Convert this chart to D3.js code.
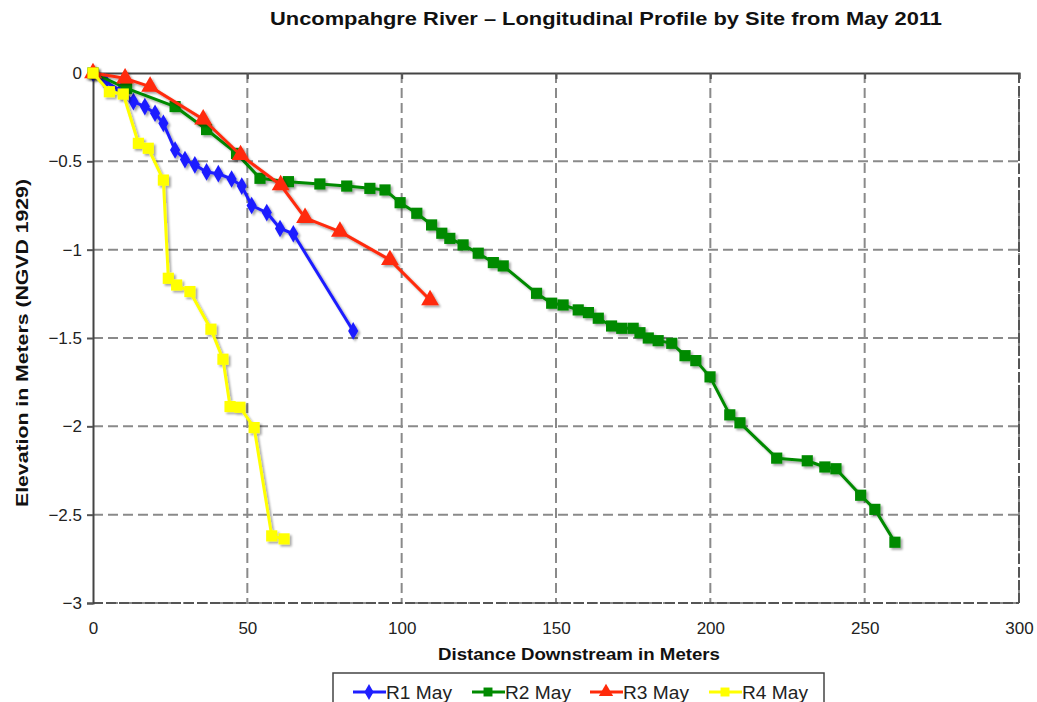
<!DOCTYPE html>
<html>
<head>
<meta charset="utf-8">
<script src="https://cdn.jsdelivr.net/npm/d3@7"></script>
<style>
  body { margin: 0; background: #fff; }
  text { font-family: "Liberation Sans", Arial, sans-serif; }
</style>
</head>
<body>
<svg id="chart" width="1037" height="702"></svg>
<script>
var width = 1037, height = 702;
var margin = {left: 93, top: 73, right: 18, bottom: 99};

var seriesNames = ["R1 May", "R2 May", "R3 May", "R4 May"];
var seriesColors = ["#1f1fff", "#008a00", "#ff2a0a", "#ffff00"];
var seriesShapes = ["diamond", "square", "triangle", "square"];

var r1x = [0, 4, 9, 13.1, 16.8, 20.1, 22.8, 26.6, 29.8, 33, 36.8, 40.6, 44.9, 48.2, 51.4, 56.3, 60.6, 64.9, 84.3];
var r1y = [0, -0.05, -0.1, -0.162, -0.19, -0.228, -0.285, -0.436, -0.49, -0.52, -0.56, -0.57, -0.6, -0.64, -0.75, -0.79, -0.88, -0.91, -1.46];

var r2x = [0, 10.9, 26.6, 36.8, 46.5, 54.1, 63.3, 73.5, 82.2, 89.7, 94.6, 99.5, 104.9, 109.7, 113, 115.6, 119.9, 124.8, 129.7, 132.9,
  143.7, 148.6, 152.3, 157.2, 160.5, 163.7, 168, 171.3, 175, 177.2, 179.9, 183.1, 187.5, 191.8, 195.3, 199.9, 206.3, 209.6,
  221.5, 231.4, 237.1, 240.7, 248.7, 253.3, 259.8];
var r2y = [0, -0.087, -0.19, -0.32, -0.455, -0.596, -0.615, -0.628, -0.64, -0.653, -0.662, -0.734, -0.794, -0.86, -0.907, -0.936, -0.973, -1.02, -1.073, -1.092,
  -1.247, -1.303, -1.313, -1.341, -1.356, -1.388, -1.432, -1.445, -1.445, -1.47, -1.5, -1.515, -1.53, -1.6, -1.628, -1.72, -1.935, -1.98,
  -2.18, -2.195, -2.23, -2.24, -2.39, -2.47, -2.656];

var r3x = [0, 10.4, 18.5, 35.7, 47.8, 60.8, 68.7, 80, 96.2, 109.2];
var r3y = [0, -0.03, -0.077, -0.262, -0.464, -0.634, -0.82, -0.898, -1.058, -1.285];

var r4x = [0, 5.3, 9.8, 14.7, 17.9, 22.8, 24.4, 27.1, 31.4, 38.2, 42.1, 44.4, 47.6, 52.2, 57.9, 61.9];
var r4y = [0, -0.106, -0.119, -0.398, -0.426, -0.606, -1.162, -1.2, -1.237, -1.45, -1.62, -1.888, -1.892, -2.007, -2.62, -2.637];

var xTicks = [0, 50, 100, 150, 200, 250, 300];
var yTicks = [0, -0.5, -1, -1.5, -2, -2.5, -3];

var seriesX = [r1x, r2x, r3x, r4x];
var seriesY = [r1y, r2y, r3y, r4y];

var svg = d3.select("#chart");

var defs = svg.append("defs");
var shadow = defs.append("filter").attr("id", "shadow")
  .attr("x", "-50%").attr("y", "-50%").attr("width", "200%").attr("height", "200%");
shadow.append("feDropShadow")
  .attr("dx", 2).attr("dy", 2).attr("stdDeviation", 1.2)
  .attr("flood-color", "#000").attr("flood-opacity", 0.35);

var x = d3.scaleLinear().domain([0, 300]).range([margin.left, width - margin.right]);
var y = d3.scaleLinear().domain([-3, 0]).range([height - margin.bottom, margin.top]);

// grid
svg.append("g").selectAll("line").data(xTicks.slice(1)).enter().append("line")
  .attr("x1", function (d) { return x(d); }).attr("x2", function (d) { return x(d); })
  .attr("y1", y(0)).attr("y2", y(-3))
  .attr("stroke", "#8a8a8a").attr("stroke-width", 2).attr("stroke-dasharray", "10,5");
svg.append("g").selectAll("line").data(yTicks.slice(1)).enter().append("line")
  .attr("x1", x(0)).attr("x2", x(300))
  .attr("y1", function (d) { return y(d); }).attr("y2", function (d) { return y(d); })
  .attr("stroke", "#8a8a8a").attr("stroke-width", 2).attr("stroke-dasharray", "10,5");

// right and bottom border (dashed, darker)
svg.append("line").attr("x1", x(300)).attr("x2", x(300)).attr("y1", y(0)).attr("y2", y(-3))
  .attr("stroke", "#555").attr("stroke-width", 2).attr("stroke-dasharray", "10,3");
svg.append("line").attr("x1", x(0)).attr("x2", x(300)).attr("y1", y(-3)).attr("y2", y(-3))
  .attr("stroke", "#555").attr("stroke-width", 2).attr("stroke-dasharray", "10,3");

// axes
var yAxis = d3.axisLeft(y).tickValues(yTicks).tickSize(6).tickPadding(5)
  .tickFormat(function (d) { return d === 0 ? "0" : "\u2212" + Math.abs(d); });
var gy = svg.append("g").attr("transform", "translate(" + x(0) + ",0)").call(yAxis);
gy.select(".domain").attr("stroke", "#444").attr("stroke-width", 2);
gy.selectAll(".tick line").attr("stroke", "#555").attr("stroke-width", 2);
gy.selectAll("text").attr("font-size", 17).attr("fill", "#222")
  .attr("font-family", "Liberation Sans, Arial, sans-serif");

var xAxisTop = d3.axisBottom(x).tickValues(xTicks).tickSize(6).tickFormat("");
var gxt = svg.append("g").attr("transform", "translate(0," + y(0) + ")").call(xAxisTop);
gxt.select(".domain").attr("stroke", "#444").attr("stroke-width", 2);
gxt.selectAll(".tick line").attr("stroke", "#555").attr("stroke-width", 2);

var xAxis = d3.axisBottom(x).tickValues(xTicks).tickSize(0).tickPadding(19);
var gx = svg.append("g").attr("transform", "translate(0," + y(-3) + ")").call(xAxis);
gx.select(".domain").remove();
gx.selectAll("text").attr("font-size", 17).attr("fill", "#222")
  .attr("font-family", "Liberation Sans, Arial, sans-serif");

// titles
svg.append("text").attr("x", 606).attr("y", 25).attr("text-anchor", "middle")
  .attr("font-size", 18.5).attr("font-weight", "bold").attr("fill", "#111")
  .attr("textLength", 672).attr("lengthAdjust", "spacingAndGlyphs")
  .text("Uncompahgre River \u2013 Longitudinal Profile by Site from May 2011");
svg.append("text").attr("x", 579).attr("y", 660).attr("text-anchor", "middle")
  .attr("font-size", 17).attr("font-weight", "bold").attr("fill", "#111")
  .attr("textLength", 282).attr("lengthAdjust", "spacingAndGlyphs")
  .text("Distance Downstream in Meters");
svg.append("text").attr("transform", "translate(28," + 343 + ") rotate(-90)")
  .attr("text-anchor", "middle")
  .attr("font-size", 17).attr("font-weight", "bold").attr("fill", "#111")
  .attr("textLength", 328).attr("lengthAdjust", "spacingAndGlyphs")
  .text("Elevation in Meters (NGVD 1929)");

// series
var line = d3.line().x(function (d) { return x(d[0]); }).y(function (d) { return y(d[1]); });

function markerPath(shape, s) {
  if (shape === "diamond") return d3.symbol().type(d3.symbolDiamond).size(s * 0.9)();
  if (shape === "triangle") return d3.symbol().type(d3.symbolTriangle).size(s * 1.1)();
  return d3.symbol().type(d3.symbolSquare).size(s)();
}

seriesNames.forEach(function (name, i) {
  var pts = seriesX[i].map(function (v, j) { return [v, seriesY[i][j]]; });
  var g = svg.append("g").attr("filter", "url(#shadow)");
  g.append("path").datum(pts).attr("d", line)
    .attr("fill", "none").attr("stroke", seriesColors[i]).attr("stroke-width", 3)
    .attr("stroke-linejoin", "round");
  g.selectAll("path.m").data(pts).enter().append("path").attr("class", "m")
    .attr("d", markerPath(seriesShapes[i], i === 0 ? 100 : 125))
    .attr("transform", function (d) { return "translate(" + x(d[0]) + "," + y(d[1]) + ")"; })
    .attr("fill", seriesColors[i]);
});

// legend
var lg = svg.append("g");
lg.append("rect").attr("x", 333).attr("y", 673).attr("width", 491).attr("height", 40)
  .attr("fill", "#fff").attr("stroke", "#444").attr("stroke-width", 1.5);
var legendX = [353, 472, 590, 709];
seriesNames.forEach(function (name, i) {
  var item = lg.append("g").attr("transform", "translate(" + legendX[i] + ",692)");
  item.append("line").attr("x1", 0).attr("x2", 33).attr("y1", 0).attr("y2", 0)
    .attr("stroke", seriesColors[i]).attr("stroke-width", 3);
  item.append("path").attr("d", markerPath(seriesShapes[i], 80))
    .attr("transform", "translate(16,0)").attr("fill", seriesColors[i]);
  item.append("text").attr("x", 33).attr("y", 7).attr("font-size", 17.5).attr("fill", "#222")
    .attr("textLength", 66).attr("lengthAdjust", "spacingAndGlyphs")
    .text(name);
});
</script>
</body>
</html>
